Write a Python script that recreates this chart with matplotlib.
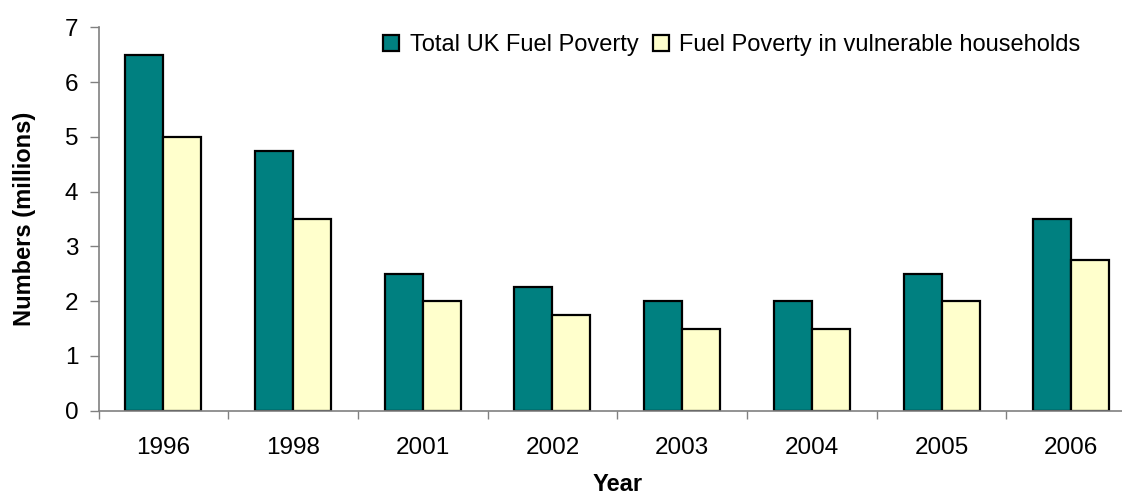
import matplotlib
matplotlib.use("Agg")
import matplotlib.pyplot as plt
import numpy as np

years = ["1996", "1998", "2001", "2002", "2003", "2004", "2005", "2006"]
total_uk = [6.5, 4.75, 2.5, 2.25, 2.0, 2.0, 2.5, 3.5]
vulnerable = [5.0, 3.5, 2.0, 1.75, 1.5, 1.5, 2.0, 2.75]
series_names = ["Total UK Fuel Poverty", "Fuel Poverty in vulnerable households"]

plt.rcParams["font.family"] = ["Liberation Sans", "DejaVu Sans"]
FS_TICK = 17.5
FS = 17

W, H = 1122, 496
fig = plt.figure(figsize=(W / 100, H / 100), dpi=100)
ax = fig.add_axes([98.5 / W, (H - 410.7) / H, 1037.6 / W, 383.4 / H])

x = np.arange(len(years))
bw = 0.293
ax.bar(x - bw / 2, total_uk, width=bw, color="#008080", edgecolor="black",
       linewidth=1.6, label=series_names[0])
ax.bar(x + bw / 2, vulnerable, width=bw, color="#FFFFCC", edgecolor="black",
       linewidth=1.6, label=series_names[1])

ax.set_xlim(-0.5, len(years) - 0.5)
ax.set_ylim(0, 7)
ax.set_yticks(range(8))

ax.set_xticks(x)
ax.set_xticklabels(years, fontsize=FS_TICK)
ax.set_xticks(np.arange(-0.5, len(years)), minor=True)
ax.tick_params(axis="x", which="major", length=0, pad=19)
ax.tick_params(axis="x", which="minor", length=6, width=1, color="#808080",
               direction="out")
ax.tick_params(axis="y", length=6.5, width=1, color="#808080", pad=8,
               labelsize=FS_TICK)

for side in ("top", "right"):
    ax.spines[side].set_visible(False)
for side in ("left", "bottom"):
    ax.spines[side].set_color("#808080")
    ax.spines[side].set_linewidth(1.2)

ax.set_xlabel("Year", fontsize=FS, fontweight="bold", labelpad=10)
ax.set_ylabel("Numbers (millions)", fontsize=FS, fontweight="bold", labelpad=21)

fig.legend(loc="upper left", bbox_to_anchor=(383 / W, 1 - 34 / H), ncol=2,
           frameon=False, fontsize=FS, handlelength=0.68, handleheight=0.68,
           handletextpad=0.45, columnspacing=0.6, borderpad=0,
           borderaxespad=0)

fig.savefig("out.png", dpi=100)
